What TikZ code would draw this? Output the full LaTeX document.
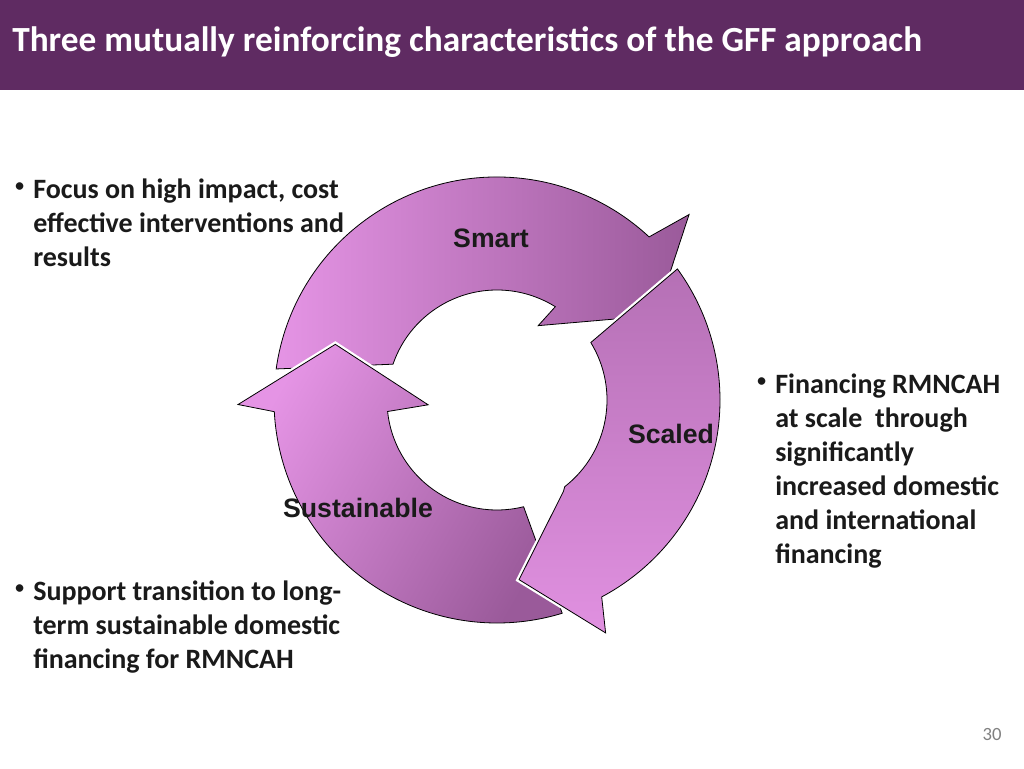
\documentclass[tikz,border=0pt]{standalone}
\usepackage{fontspec}
\setmainfont{Carlito}
\newfontfamily\arialf{Liberation Sans}
\begin{document}
\begin{tikzpicture}[x=0.75pt,y=0.75pt]
\definecolor{hdr}{HTML}{5F2B62}
\definecolor{lite}{HTML}{E594E5}
\definecolor{dark}{HTML}{9A5A9A}
\definecolor{mid}{HTML}{B570B5}
\definecolor{txt}{HTML}{1A1A1A}
\tikzset{arrowshape/.style={draw=black,line width=0.6pt,preaction={draw=white,line width=4pt}},
 lab/.style={font=\arialf\bfseries\fontsize{20}{24}\selectfont,text=txt,inner sep=0},
 bul/.style={font=\bfseries\fontsize{21}{25.5}\selectfont,text=txt,align=left,anchor=north west,inner sep=0}}
\useasboundingbox (0,0) rectangle (1024,768);
\fill[white] (0,0) rectangle (1024,768);
\fill[hdr] (0,678) rectangle (1024,768);
\node[anchor=west,text=white,font=\bfseries\fontsize{26.5}{30}\selectfont,inner sep=0] (title) at (12,726) {Three mutually reinforcing characteristics of the GFF approach};
\begin{scope}[shift={(497,368)}]
% Smart
\path[arrowshape,left color=lite,right color=dark]
 (172:223) arc[start angle=172,end angle=47,radius=223] -- (44:267) -- (28:180) -- (61:85)
 -- (58:110) arc[start angle=58,end angle=161,radius=110] -- cycle;
% Sustainable
\path[arrowshape,left color=lite,right color=dark,shading angle=60]
 (-73:223) arc[start angle=-73,end angle=-177,radius=223] -- (-179:259) -- (-199:171) -- (-176:69)
 -- (-174:110) arc[start angle=-174,end angle=-76,radius=110] -- cycle;
% Scaled
\path[arrowshape,top color=mid,bottom color=lite!90!mid]
 (36:223) arc[start angle=36,end angle=-62,radius=223] -- (-65:257) -- (-83:181) -- (-54:113)
 -- (-52:110) arc[start angle=-52,end angle=31.5,radius=110] -- cycle;
\end{scope}
\node[lab] (smart) at (491,530) {Smart};
\node[lab] (scaled) at (671,334) {Scaled};
\node[lab] (sust) at (358,260) {Sustainable};
\node[bul,font=\fontsize{16}{25.5}\selectfont] (b1) at (14,586) {•};
\node[bul] (t1) at (33,589) {Focus on high impact, cost\\effective interventions and\\results};
\node[bul,font=\fontsize{16}{25.5}\selectfont] (b2) at (756,391) {•};
\node[bul] (t2) at (775,394) {Financing RMNCAH\\at scale\ \ through\\significantly\\increased domestic\\and international\\financing};
\node[bul,font=\fontsize{16}{25.5}\selectfont] (b3) at (14,184) {•};
\node[bul] (t3) at (33,187) {Support transition to long-\\term sustainable domestic\\financing for RMNCAH};
\node[text=gray,font=\fontsize{14}{16}\selectfont,inner sep=0] (pg) at (992,33) {30};
\end{tikzpicture}
\end{document}
